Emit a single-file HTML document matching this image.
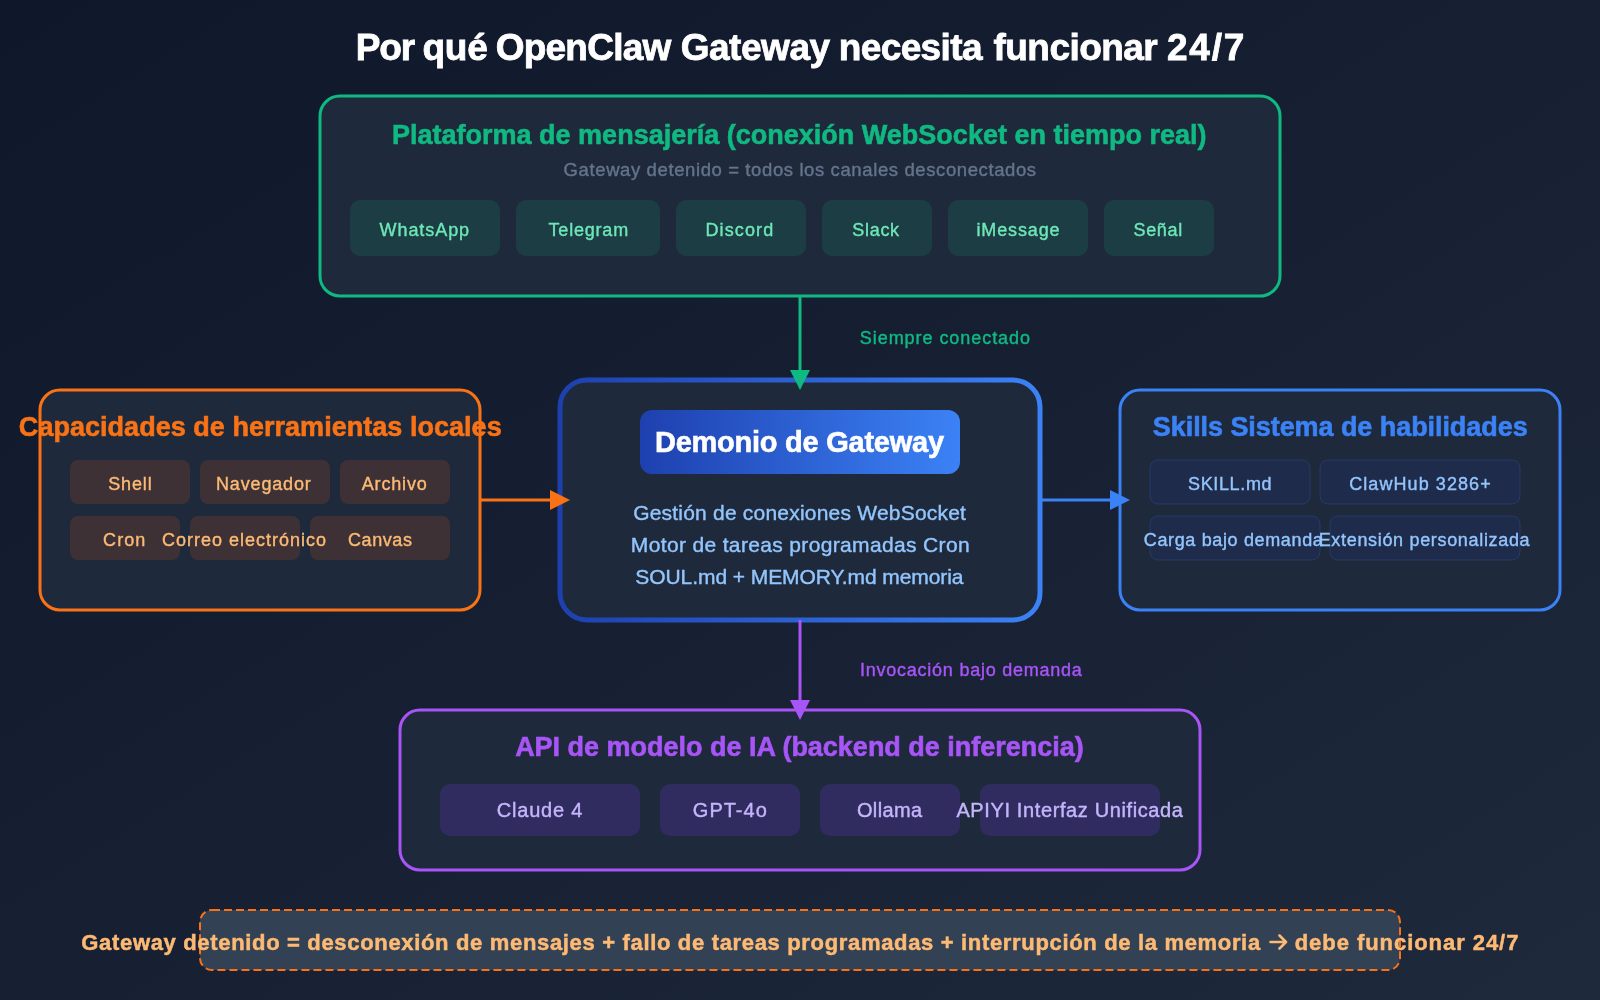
<!DOCTYPE html>
<html><head><meta charset="utf-8"><title>OpenClaw Gateway 24/7</title><style>
html,body{margin:0;padding:0;width:1600px;height:1000px;overflow:hidden;background:#0f172a;}
svg{display:block;will-change:transform;font-family:"Liberation Sans", sans-serif;}
</style></head><body>
<svg width="1600" height="1000" viewBox="0 0 1600 1000">
<defs>
<linearGradient id="bg" x1="0" y1="0" x2="1" y2="1"><stop offset="0" stop-color="#0f172a"/><stop offset="1" stop-color="#1e293b"/></linearGradient>
<linearGradient id="blue" x1="0" y1="0" x2="1" y2="0"><stop offset="0" stop-color="#1e40af"/><stop offset="1" stop-color="#3b82f6"/></linearGradient>
</defs>
<rect class="shape" x="0" y="0" width="1600" height="1000" fill="url(#bg)"/>
<g class="shapes">
<rect x="320" y="96" width="960" height="200" rx="20" fill="#1e293b" stroke="#10b981" stroke-width="3"/>
<rect x="350" y="200" width="150" height="56" rx="10" fill="#1b3d43"/>
<rect x="516" y="200" width="144" height="56" rx="10" fill="#1b3d43"/>
<rect x="676" y="200" width="130" height="56" rx="10" fill="#1b3d43"/>
<rect x="822" y="200" width="110" height="56" rx="10" fill="#1b3d43"/>
<rect x="948" y="200" width="140" height="56" rx="10" fill="#1b3d43"/>
<rect x="1104" y="200" width="110" height="56" rx="10" fill="#1b3d43"/>
<rect x="40" y="390" width="440" height="220" rx="20" fill="#1e293b" stroke="#f97316" stroke-width="3"/>
<rect x="70" y="460" width="120" height="44" rx="8" fill="#3d3136"/>
<rect x="200" y="460" width="130" height="44" rx="8" fill="#3d3136"/>
<rect x="340" y="460" width="110" height="44" rx="8" fill="#3d3136"/>
<rect x="70" y="516" width="110" height="44" rx="8" fill="#3d3136"/>
<rect x="190" y="516" width="110" height="44" rx="8" fill="#3d3136"/>
<rect x="310" y="516" width="140" height="44" rx="8" fill="#3d3136"/>
<rect x="1120" y="390" width="440" height="220" rx="20" fill="#1e293b" stroke="#3b82f6" stroke-width="3"/>
<rect x="1150" y="460" width="160" height="44" rx="8" fill="#1e2b4a" stroke="rgba(59,130,246,0.2)" stroke-width="1"/>
<rect x="1320" y="460" width="200" height="44" rx="8" fill="#1e2b4a" stroke="rgba(59,130,246,0.2)" stroke-width="1"/>
<rect x="1150" y="516" width="170" height="44" rx="8" fill="#1e2b4a" stroke="rgba(59,130,246,0.2)" stroke-width="1"/>
<rect x="1330" y="516" width="190" height="44" rx="8" fill="#1e2b4a" stroke="rgba(59,130,246,0.2)" stroke-width="1"/>
<rect x="560" y="380" width="480" height="240" rx="27" fill="#1e293b" stroke="url(#blue)" stroke-width="5"/>
<rect x="640" y="410" width="320" height="64" rx="12" fill="url(#blue)"/>
<rect x="400" y="710" width="800" height="160" rx="20" fill="#1e293b" stroke="#a855f7" stroke-width="3"/>
<rect x="440" y="784" width="200" height="52" rx="10" fill="#312c5f"/>
<rect x="660" y="784" width="140" height="52" rx="10" fill="#312c5f"/>
<rect x="820" y="784" width="140" height="52" rx="10" fill="#312c5f"/>
<rect x="980" y="784" width="180" height="52" rx="10" fill="#312c5f"/>
<line x1="800" y1="296" x2="800" y2="372" stroke="#10b981" stroke-width="3"/>
<polygon points="790,370 810,370 800,390" fill="#10b981"/>
<line x1="480" y1="500" x2="552" y2="500" stroke="#f97316" stroke-width="3"/>
<polygon points="550,490 550,510 570,500" fill="#f97316"/>
<line x1="1040" y1="500" x2="1112" y2="500" stroke="#3b82f6" stroke-width="3"/>
<polygon points="1110,490 1110,510 1130,500" fill="#3b82f6"/>
<line x1="800" y1="620" x2="800" y2="702" stroke="#a855f7" stroke-width="3"/>
<polygon points="790,700 810,700 800,720" fill="#a855f7"/>
<rect x="200" y="910" width="1200" height="60" rx="12" fill="#334155" stroke="#f97316" stroke-width="2" stroke-dasharray="8 4"/>
<path d="M1270.5,942 H1286 M1279.5,935.5 L1286,942 L1279.5,948.5" fill="none" stroke="#fdba74" stroke-width="2.6" stroke-linecap="round" stroke-linejoin="round"/>
</g>
<g class="texts">
<text id="t1" x="355.73" y="60" font-size="37" font-weight="700" fill="#ffffff" stroke="#ffffff" stroke-width="0.8" textLength="59.38" lengthAdjust="spacing">Por</text>
<text id="t2" x="422.54" y="60" font-size="37" font-weight="700" fill="#ffffff" stroke="#ffffff" stroke-width="0.8" textLength="65.17" lengthAdjust="spacing">qué</text>
<text id="t3" x="495.66" y="60" font-size="37" font-weight="700" fill="#ffffff" stroke="#ffffff" stroke-width="0.8" textLength="175.66" lengthAdjust="spacing">OpenClaw</text>
<text id="t4" x="680.66" y="60" font-size="37" font-weight="700" fill="#ffffff" stroke="#ffffff" stroke-width="0.8" textLength="149.46" lengthAdjust="spacing">Gateway</text>
<text id="t5" x="838.72" y="60" font-size="37" font-weight="700" fill="#ffffff" stroke="#ffffff" stroke-width="0.8" textLength="143.82" lengthAdjust="spacing">necesita</text>
<text id="t6" x="993.51" y="60" font-size="37" font-weight="700" fill="#ffffff" stroke="#ffffff" stroke-width="0.8" textLength="164.22" lengthAdjust="spacing">funcionar</text>
<text id="t7" x="1166.95" y="60" font-size="37" font-weight="700" fill="#ffffff" stroke="#ffffff" stroke-width="0.8" textLength="77.48" lengthAdjust="spacing">24/7</text>
<text id="plat" x="391.97" y="144" font-size="27" font-weight="700" fill="#10b981" stroke="#10b981" stroke-width="0.6" textLength="814.60" lengthAdjust="spacing">Plataforma de mensajería (conexión WebSocket en tiempo real)</text>
<text id="sub" x="563.61" y="175.6" font-size="18.5" font-weight="400" fill="#64748b" stroke="#64748b" stroke-width="0.4" textLength="472.50" lengthAdjust="spacing">Gateway detenido = todos los canales desconectados</text>
<text id="c_wa" x="379.50" y="236" font-size="18" font-weight="400" fill="#6ee7b7" stroke="#6ee7b7" stroke-width="0.4" textLength="89.62" lengthAdjust="spacing">WhatsApp</text>
<text id="c_tg" x="548.58" y="236" font-size="18" font-weight="400" fill="#6ee7b7" stroke="#6ee7b7" stroke-width="0.4" textLength="79.60" lengthAdjust="spacing">Telegram</text>
<text id="c_dc" x="705.50" y="236" font-size="18" font-weight="400" fill="#6ee7b7" stroke="#6ee7b7" stroke-width="0.4" textLength="67.71" lengthAdjust="spacing">Discord</text>
<text id="c_sl" x="852.36" y="236" font-size="18" font-weight="400" fill="#6ee7b7" stroke="#6ee7b7" stroke-width="0.4" textLength="46.74" lengthAdjust="spacing">Slack</text>
<text id="c_im" x="976.40" y="236" font-size="18" font-weight="400" fill="#6ee7b7" stroke="#6ee7b7" stroke-width="0.4" textLength="83.19" lengthAdjust="spacing">iMessage</text>
<text id="c_se" x="1133.54" y="236" font-size="18" font-weight="400" fill="#6ee7b7" stroke="#6ee7b7" stroke-width="0.4" textLength="48.65" lengthAdjust="spacing">Señal</text>
<text id="siempre" x="859.78" y="344" font-size="18" font-weight="400" fill="#10b981" stroke="#10b981" stroke-width="0.4" textLength="170.23" lengthAdjust="spacing">Siempre conectado</text>
<text id="cap" x="18.86" y="436" font-size="27" font-weight="700" fill="#f97316" stroke="#f97316" stroke-width="0.6" textLength="482.81" lengthAdjust="spacing">Capacidades de herramientas locales</text>
<text id="l_sh" x="108.24" y="490.2" font-size="18" font-weight="400" fill="#fdba74" stroke="#fdba74" stroke-width="0.4" textLength="43.39" lengthAdjust="spacing">Shell</text>
<text id="l_nv" x="216.00" y="490.2" font-size="18" font-weight="400" fill="#fdba74" stroke="#fdba74" stroke-width="0.4" textLength="94.79" lengthAdjust="spacing">Navegador</text>
<text id="l_ar" x="361.75" y="490.2" font-size="18" font-weight="400" fill="#fdba74" stroke="#fdba74" stroke-width="0.4" textLength="64.98" lengthAdjust="spacing">Archivo</text>
<text id="l_cr" x="103.07" y="546" font-size="18" font-weight="400" fill="#fdba74" stroke="#fdba74" stroke-width="0.4" textLength="42.23" lengthAdjust="spacing">Cron</text>
<text id="l_co" x="162.07" y="546" font-size="18" font-weight="400" fill="#fdba74" stroke="#fdba74" stroke-width="0.4" textLength="163.98" lengthAdjust="spacing">Correo electrónico</text>
<text id="l_cv" x="348.04" y="546" font-size="18" font-weight="400" fill="#fdba74" stroke="#fdba74" stroke-width="0.4" textLength="63.86" lengthAdjust="spacing">Canvas</text>
<text id="skills" x="1152.80" y="435.8" font-size="27" font-weight="700" fill="#3b82f6" stroke="#3b82f6" stroke-width="0.6" textLength="374.86" lengthAdjust="spacing">Skills Sistema de habilidades</text>
<text id="r_sk" x="1188.03" y="490" font-size="18" font-weight="400" fill="#93c5fd" stroke="#93c5fd" stroke-width="0.4" textLength="83.54" lengthAdjust="spacing">SKILL.md</text>
<text id="r_ch" x="1349.19" y="489.8" font-size="18" font-weight="400" fill="#93c5fd" stroke="#93c5fd" stroke-width="0.4" textLength="141.53" lengthAdjust="spacing">ClawHub 3286+</text>
<text id="r_ca" x="1143.79" y="545.8" font-size="18" font-weight="400" fill="#93c5fd" stroke="#93c5fd" stroke-width="0.4" textLength="179.05" lengthAdjust="spacing">Carga bajo demanda</text>
<text id="r_ex" x="1318.66" y="545.8" font-size="18" font-weight="400" fill="#93c5fd" stroke="#93c5fd" stroke-width="0.4" textLength="210.96" lengthAdjust="spacing">Extensión personalizada</text>
<text id="pill" x="654.93" y="451.6" font-size="29" font-weight="700" fill="#ffffff" stroke="#ffffff" stroke-width="0.6" textLength="289.10" lengthAdjust="spacing">Demonio de Gateway</text>
<text id="ln1" x="633.15" y="519.5" font-size="21" font-weight="400" fill="#93c5fd" stroke="#93c5fd" stroke-width="0.4" textLength="332.78" lengthAdjust="spacing">Gestión de conexiones WebSocket</text>
<text id="ln2" x="630.83" y="551.5" font-size="21" font-weight="400" fill="#93c5fd" stroke="#93c5fd" stroke-width="0.4" textLength="338.79" lengthAdjust="spacing">Motor de tareas programadas Cron</text>
<text id="ln3" x="635.33" y="583.5" font-size="21" font-weight="400" fill="#93c5fd" stroke="#93c5fd" stroke-width="0.4" textLength="328.17" lengthAdjust="spacing">SOUL.md + MEMORY.md memoria</text>
<text id="invoc" x="860.00" y="675.5" font-size="18" font-weight="400" fill="#a855f7" stroke="#a855f7" stroke-width="0.4" textLength="221.84" lengthAdjust="spacing">Invocación bajo demanda</text>
<text id="api" x="515.13" y="755.8" font-size="27" font-weight="700" fill="#a855f7" stroke="#a855f7" stroke-width="0.6" textLength="568.60" lengthAdjust="spacing">API de modelo de IA (backend de inferencia)</text>
<text id="a_cl" x="496.80" y="817.4" font-size="20" font-weight="400" fill="#c4b5fd" stroke="#c4b5fd" stroke-width="0.4" textLength="85.62" lengthAdjust="spacing">Claude 4</text>
<text id="a_gp" x="692.84" y="817.4" font-size="20" font-weight="400" fill="#c4b5fd" stroke="#c4b5fd" stroke-width="0.4" textLength="73.95" lengthAdjust="spacing">GPT-4o</text>
<text id="a_ol" x="856.94" y="817.4" font-size="20" font-weight="400" fill="#c4b5fd" stroke="#c4b5fd" stroke-width="0.4" textLength="65.25" lengthAdjust="spacing">Ollama</text>
<text id="a_ap" x="956.39" y="817.4" font-size="20" font-weight="400" fill="#c4b5fd" stroke="#c4b5fd" stroke-width="0.4" textLength="226.59" lengthAdjust="spacing">APIYI Interfaz Unificada</text>
<text id="ban1" x="81.31" y="950" font-size="22" font-weight="700" fill="#fdba74" stroke="#fdba74" stroke-width="0.5" textLength="1178.83" lengthAdjust="spacing">Gateway detenido = desconexión de mensajes + fallo de tareas programadas + interrupción de la memoria</text>
<text id="ban2" x="1294.73" y="950" font-size="22" font-weight="700" fill="#fdba74" stroke="#fdba74" stroke-width="0.5" textLength="223.65" lengthAdjust="spacing">debe funcionar 24/7</text>
</g>
</svg>
</body></html>
